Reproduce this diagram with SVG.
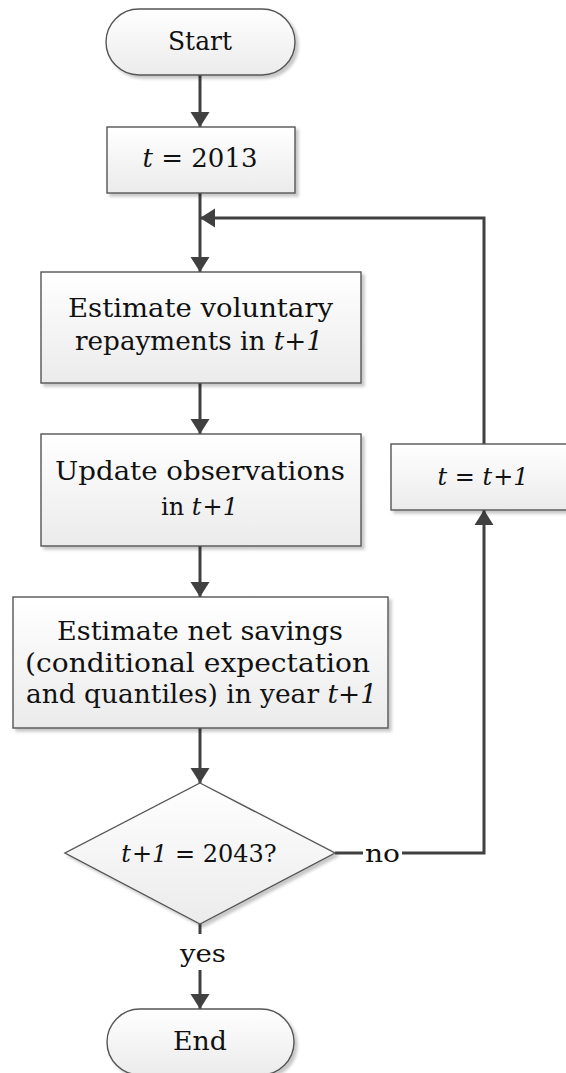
<svg xmlns="http://www.w3.org/2000/svg" width="566" height="1073" viewBox="0 0 566 1073">
<defs>
<linearGradient id="fillg" x1="0" y1="0" x2="0" y2="1">
<stop offset="0" stop-color="#ffffff"/>
<stop offset="1" stop-color="#ebebeb"/>
</linearGradient>
<filter id="sh" x="-10%" y="-10%" width="130%" height="130%">
<feDropShadow dx="3" dy="3" stdDeviation="1.5" flood-color="#000" flood-opacity="0.22"/>
</filter>
<marker id="arr" markerUnits="userSpaceOnUse" markerWidth="20" markerHeight="20" viewBox="0 0 20 20" refX="16" refY="10" orient="auto">
<path d="M1,0.5 L16,10 L1,19.5 Z" fill="#404040"/>
</marker>
<style>
.shape{fill:url(#fillg);stroke:#555555;stroke-width:1.4;filter:url(#sh)}
.t{font-family:"DejaVu Serif","Liberation Serif",serif;font-size:26px;fill:#111111;text-anchor:middle}
.s{font-size:24px}
.i{font-style:italic}
.c{fill:none;stroke:#404040;stroke-width:3}
.lbl{font-family:"DejaVu Serif","Liberation Serif",serif;font-size:25px;fill:#111111;text-anchor:middle}
</style>
</defs>
<g id="connectors">
<path class="c" d="M200,75 L200,127" marker-end="url(#arr)"/>
<path class="c" d="M200,193 L200,272" marker-end="url(#arr)"/>
<path class="c" d="M484,444 L484,218 L200,218" marker-end="url(#arr)"/>
<path class="c" d="M200,383 L200,434" marker-end="url(#arr)"/>
<path class="c" d="M200,546 L200,597" marker-end="url(#arr)"/>
<path class="c" d="M200,728 L200,783" marker-end="url(#arr)"/>
<path class="c" d="M335,853 L484,853 L484,510" marker-end="url(#arr)"/>
<path class="c" d="M200,924 L200,1009" marker-end="url(#arr)"/>
<rect x="363" y="838" width="39" height="26" fill="#ffffff"/>
<text class="lbl" x="382.5" y="862" textLength="35" lengthAdjust="spacingAndGlyphs">no</text>
<rect x="178" y="934" width="50" height="36" fill="#ffffff"/>
<text class="lbl" x="203" y="962" textLength="46" lengthAdjust="spacingAndGlyphs">yes</text>
</g>
<g id="start">
<rect class="shape" x="106" y="9" width="189" height="66" rx="33" ry="33"/>
<text class="t" x="200" y="50" textLength="64" lengthAdjust="spacingAndGlyphs">Start</text>
</g>
<g id="init">
<rect class="shape" x="107" y="127" width="188" height="66"/>
<text class="t" x="200" y="167"><tspan class="i">t</tspan> = 2013</text>
</g>
<g id="repay">
<rect class="shape" x="41" y="272" width="320" height="111"/>
<text class="t" x="200.5" y="317" textLength="265" lengthAdjust="spacingAndGlyphs">Estimate voluntary</text>
<text class="t" x="199" y="350" textLength="248" lengthAdjust="spacingAndGlyphs">repayments in <tspan class="i">t</tspan>+<tspan class="i">1</tspan></text>
</g>
<g id="update">
<rect class="shape" x="41" y="434" width="320" height="112"/>
<text class="t" x="200" y="480" textLength="290" lengthAdjust="spacingAndGlyphs">Update observations</text>
<text class="t s" x="199.5" y="515">in <tspan class="i">t</tspan><tspan dx="1">+</tspan><tspan class="i">1</tspan></text>
</g>
<g id="savings">
<rect class="shape" x="13" y="597" width="375" height="131"/>
<text class="t" x="200" y="640" textLength="286" lengthAdjust="spacingAndGlyphs">Estimate net savings</text>
<text class="t" x="197.5" y="672" textLength="345" lengthAdjust="spacingAndGlyphs">(conditional expectation</text>
<text class="t" x="201.5" y="703" textLength="351" lengthAdjust="spacingAndGlyphs">and quantiles) in year <tspan class="i">t</tspan>+<tspan class="i">1</tspan></text>
</g>
<g id="increment">
<rect class="shape" x="391" y="444" width="186" height="66"/>
<text class="t s" x="483" y="485"><tspan class="i">t</tspan> = <tspan class="i">t</tspan><tspan dx="1">+</tspan><tspan class="i">1</tspan></text>
</g>
<g id="decision">
<polygon class="shape" points="200,783 335,853 200,924 65,853"/>
<text class="t s" x="199" y="862"><tspan class="i">t</tspan><tspan dx="1">+</tspan><tspan class="i">1</tspan> = 2043?</text>
</g>
<g id="end">
<rect class="shape" x="107" y="1009" width="187" height="66" rx="33" ry="33"/>
<text class="t" x="200" y="1050" textLength="54" lengthAdjust="spacingAndGlyphs">End</text>
</g>
</svg>
